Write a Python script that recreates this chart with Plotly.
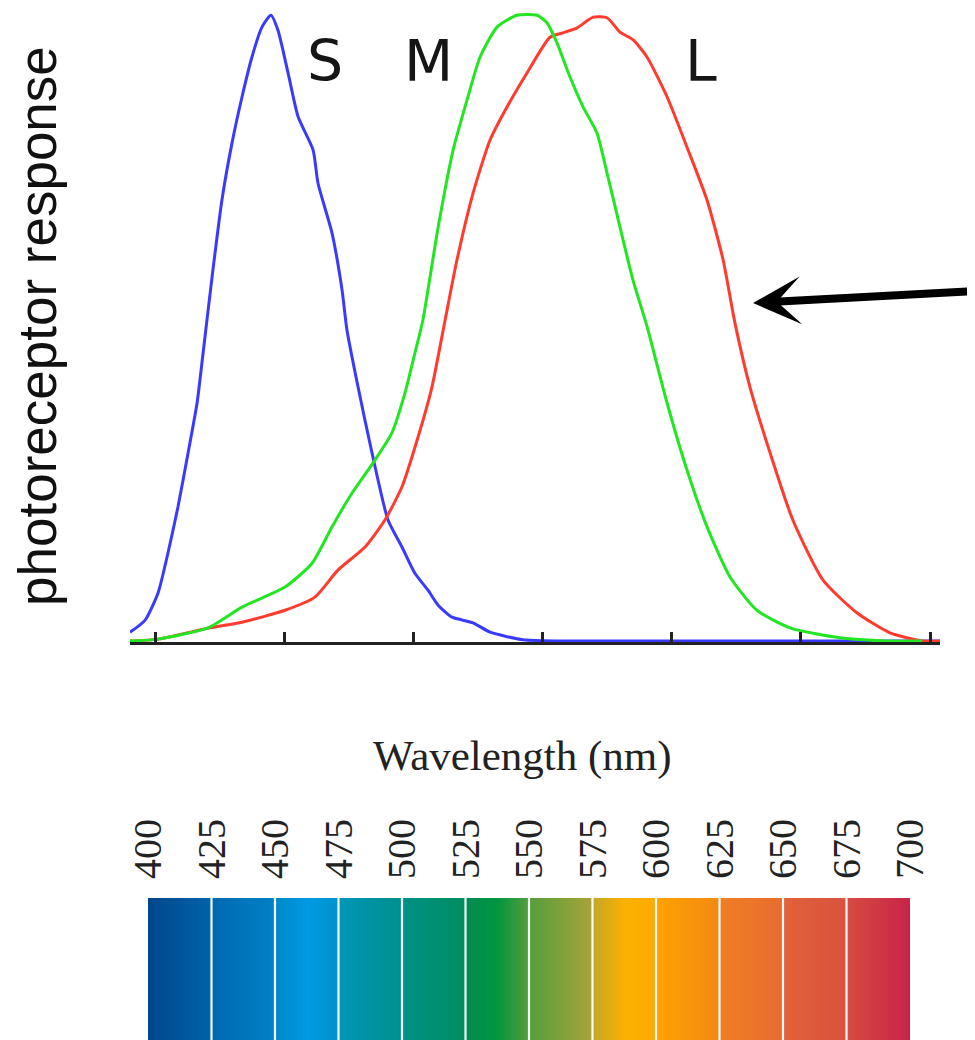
import numpy as np
import plotly.graph_objects as go

# ---------------- data ----------------
S_wl = [390.3, 396.1, 401.2, 405.0, 408.9, 412.8, 416.3, 418.6, 422.1, 425.9, 429.8, 433.7, 437.5,
        441.4, 444.9, 447.6, 451.5, 455.4, 461.2, 463.1, 468.5, 472.4, 474.3, 478.6, 484.0, 490.2,
        495.6, 500.6, 505.7, 509.6, 515.0, 523.1, 529.7, 542.5, 556.8, 611.0, 703.9]
S_val = [0.014, 0.033, 0.077, 0.140, 0.214, 0.300, 0.380, 0.459, 0.581, 0.703, 0.794, 0.868, 0.931,
         0.979, 0.998, 0.974, 0.906, 0.836, 0.783, 0.730, 0.651, 0.560, 0.496, 0.405, 0.300, 0.193,
         0.150, 0.108, 0.081, 0.057, 0.038, 0.029, 0.014, 0.002, 0.0, 0.0, 0.0]

M_wl = [390.3, 401.2, 420.5, 433.7, 450.3, 460.8, 468.5, 476.3, 484.4, 491.7, 496.8, 500.6, 503.7,
        509.6, 515.4, 520.8, 525.8, 532.4, 540.1, 547.9, 551.7, 555.6, 560.6, 565.7, 571.1, 575.0,
        580.0, 585.0, 590.5, 598.2, 605.9, 613.7, 622.6, 633.0, 645.8, 665.2, 683.0, 697.0]
M_val = [0.0, 0.003, 0.021, 0.054, 0.086, 0.124, 0.182, 0.236, 0.284, 0.332, 0.396, 0.459, 0.512,
         0.660, 0.783, 0.863, 0.931, 0.979, 0.998, 0.998, 0.986, 0.954, 0.900, 0.852, 0.810, 0.746,
         0.660, 0.576, 0.501, 0.380, 0.273, 0.182, 0.102, 0.049, 0.021, 0.005, 0.0, 0.0]

L_wl = [390.3, 401.2, 421.3, 433.7, 450.3, 461.9, 470.8, 481.3, 489.0, 495.6, 501.8, 507.2, 512.3,
        516.9, 523.1, 529.7, 536.3, 544.0, 552.9, 557.9, 563.4, 569.6, 575.0, 580.0, 585.0, 590.5,
        598.2, 605.9, 613.7, 619.9, 624.5, 630.3, 638.1, 646.9, 658.6, 671.7, 684.5, 697.3, 703.9]
L_val = [0.0, 0.003, 0.021, 0.030, 0.049, 0.070, 0.113, 0.150, 0.193, 0.246, 0.325, 0.405, 0.512,
         0.608, 0.714, 0.799, 0.852, 0.906, 0.963, 0.970, 0.978, 0.995, 0.994, 0.971, 0.959, 0.931,
         0.868, 0.788, 0.703, 0.608, 0.507, 0.405, 0.300, 0.193, 0.097, 0.045, 0.013, 0.0, 0.0]

cone_labels = ["S", "M", "L"]
cone_label_wl = [465.8, 505.7, 611.4]
cone_label_y = 0.925

plot_ticks = [400, 450, 500, 550, 600, 650, 700]

spectrum_ticks = [400, 425, 450, 475, 500, 525, 550, 575, 600, 625, 650, 675, 700]
spectrum_stops = [
    (400, "#00468c"), (424, "#0062a8"),
    (425, "#0068b0"), (449, "#0080c6"),
    (450, "#0088cc"), (463, "#009ae2"), (474, "#0094cc"),
    (475, "#0096b8"), (499, "#00908f"),
    (500, "#009088"), (524, "#008e60"),
    (525, "#008c52"), (537, "#009640"), (542, "#1e983e"), (549, "#509c3c"),
    (550, "#559e3c"), (574, "#a4a43a"),
    (575, "#c4a628"), (588, "#fbb200"), (599, "#ffaa00"),
    (600, "#ffa200"), (624, "#f28a12"),
    (625, "#ef7f22"), (649, "#e86c30"),
    (650, "#e2623a"), (674, "#d9523e"),
    (675, "#d74c42"), (700, "#c82448"),
]

# ---------------- layout helpers (page body has an 8px margin) ----------------
OX, OY = 8, 8
W, H = 975 - OX, 1040 - OY


def px(xp):
    return (xp - OX) / W


def py(yp):
    return 1 - (yp - OY) / H


fig = go.Figure()

line_common = dict(shape="spline", smoothing=0.6)
fig.add_trace(go.Scatter(x=S_wl, y=S_val, mode="lines", line=dict(color="#3a3aff", width=3, **line_common),
                         hoverinfo="skip", showlegend=False, xaxis="x", yaxis="y"))
fig.add_trace(go.Scatter(x=L_wl, y=L_val, mode="lines", line=dict(color="#ff3b2e", width=3, **line_common),
                         hoverinfo="skip", showlegend=False, xaxis="x", yaxis="y"))
fig.add_trace(go.Scatter(x=M_wl, y=M_val, mode="lines", line=dict(color="#22e622", width=3, **line_common),
                         hoverinfo="skip", showlegend=False, xaxis="x", yaxis="y"))

# spectrum bar as heatmap
lo, hi = spectrum_ticks[0], spectrum_ticks[-1]
edges = np.linspace(lo, hi, 601)
centers = (edges[:-1] + edges[1:]) / 2
colorscale = [[(wl - lo) / (hi - lo), c] for wl, c in spectrum_stops]
fig.add_trace(go.Heatmap(x=edges, y=[0, 1], z=[centers], zmin=lo, zmax=hi, colorscale=colorscale,
                         showscale=False, hoverinfo="skip", xaxis="x2", yaxis="y2"))

# white separators between spectrum segments
for wl in spectrum_ticks[1:-1]:
    fig.add_shape(type="line", xref="x2", yref="y2", x0=wl, x1=wl, y0=0, y1=1,
                  line=dict(color="#f4fbfa", width=2.2), layer="above")

# cone labels
for t, wl in zip(cone_labels, cone_label_wl):
    fig.add_annotation(x=wl, y=cone_label_y, xref="x", yref="y", text=t, showarrow=False,
                       font=dict(family="DejaVu Sans", size=57, color="#151515"),
                       xanchor="center", yanchor="middle")

# y title
fig.add_annotation(x=px(37), y=py(326), xref="paper", yref="paper", text="photoreceptor response",
                   textangle=-90, showarrow=False, xanchor="center", yanchor="middle",
                   font=dict(family="Liberation Sans", size=53, color="#111111"))

# wavelength title
fig.add_annotation(x=px(522), y=py(756), xref="paper", yref="paper", text="Wavelength (nm)",
                   showarrow=False, xanchor="center", yanchor="middle",
                   font=dict(family="Liberation Serif", size=43, color="#222222"))

# arrow
fig.add_annotation(x=px(753), y=py(303), xref="paper", yref="paper", text="",
                   showarrow=True, arrowhead=3, arrowsize=1.0, arrowwidth=8, arrowcolor="#000000",
                   ax=222, ay=-12, standoff=0)

# y mapping: value 0 at pixel 641, value 1 at pixel 14
y_bot_px, y_top_px = 642, OY
y_lo = (641 - y_bot_px) / 627
y_hi = (641 - y_top_px) / 627
fig.update_layout(
    width=W, height=H,
    margin=dict(l=0, r=0, t=0, b=0, autoexpand=False),
    paper_bgcolor="white", plot_bgcolor="white",
    xaxis=dict(domain=[px(130), px(940)], range=[390.32, 703.87], showgrid=False, zeroline=False,
               showline=True, linecolor="#222222", linewidth=3,
               ticks="inside", ticklen=10, tickwidth=2.5, tickcolor="#222222",
               tickvals=plot_ticks, showticklabels=False, anchor="y", fixedrange=True),
    yaxis=dict(domain=[py(y_bot_px), py(y_top_px)], range=[y_lo, y_hi], visible=False, anchor="x",
               fixedrange=True),
    xaxis2=dict(domain=[px(148), px(910)], range=[lo, hi], side="top", anchor="y2",
                showgrid=False, zeroline=False, showline=False, ticks="",
                tickvals=spectrum_ticks, ticktext=[str(v) for v in spectrum_ticks],
                tickangle=-90, ticklabelstandoff=18,
                tickfont=dict(family="Liberation Serif", size=40, color="#222222"), fixedrange=True),
    yaxis2=dict(domain=[0, py(898)], range=[0, 1], visible=False, anchor="x2", fixedrange=True),
)

fig.write_html("out.html")
